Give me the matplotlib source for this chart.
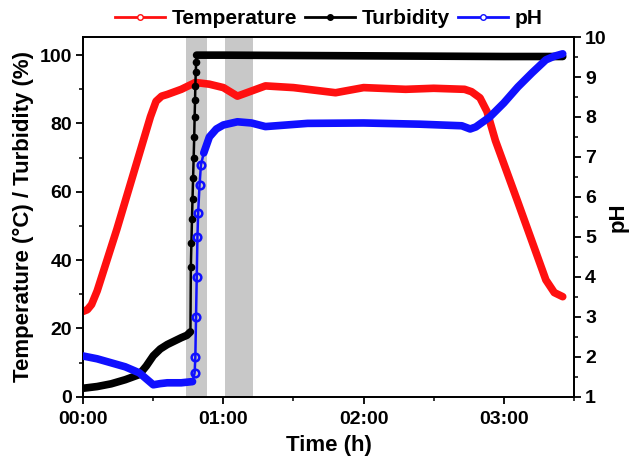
import numpy as np
import matplotlib
matplotlib.use("Agg")
import matplotlib.pyplot as plt
from matplotlib.ticker import MultipleLocator, FuncFormatter
from matplotlib.lines import Line2D

plt.rcParams['font.family'] = ['Liberation Sans', 'DejaVu Sans']
plt.rcParams['font.weight'] = 'bold'

# time in hours
temp_t = [0, 0.03, 0.06, 0.1, 0.24, 0.4, 0.48, 0.52, 0.56, 0.6, 0.7, 0.8, 0.9,
          1.0, 1.1, 1.2, 1.3, 1.5, 1.7, 1.8, 2.0, 2.3, 2.5, 2.72, 2.77, 2.83,
          2.88, 2.94, 3.1, 3.3, 3.36, 3.42]
temp_v = [25, 25.5, 27, 31, 49, 71, 82, 86.5, 88, 88.5, 90, 92, 91.5,
          90.5, 88, 89.5, 91, 90.5, 89.5, 89, 90.5, 90, 90.3, 90, 89.3, 87.5,
          83.5, 75, 57, 34.2, 30.5, 29.3]

turb_t = [0, 0.1, 0.2, 0.3, 0.4, 0.45, 0.5, 0.55, 0.6, 0.65, 0.7, 0.74, 0.765,
          0.768, 0.772, 0.776, 0.78, 0.784, 0.788, 0.792, 0.795, 0.798, 0.8,
          0.803, 0.806, 0.809, 1.0, 2.0, 3.0, 3.42]
turb_v = [2.5, 3, 3.8, 5, 6.5, 9, 12, 14, 15.3, 16.3, 17.3, 18, 19,
          38, 45, 52, 58, 64, 70, 76, 82, 87, 91,
          95, 98, 100, 100, 99.8, 99.6, 99.6]

ph_t = [0, 0.1, 0.2, 0.3, 0.4, 0.45, 0.5, 0.55, 0.6, 0.7, 0.78, 0.795, 0.8,
        0.805, 0.81, 0.815, 0.82, 0.83, 0.84, 0.86, 0.9, 0.95, 1.0, 1.1, 1.2,
        1.3, 1.45, 1.6, 2.0, 2.4, 2.7, 2.76, 2.8, 2.9, 3.0, 3.1, 3.2, 3.3,
        3.36, 3.42]
ph_v = [2.02, 1.95, 1.85, 1.75, 1.6, 1.45, 1.3, 1.33, 1.35, 1.35, 1.38, 1.6, 2.0,
        3.0, 4.0, 5.0, 5.6, 6.3, 6.8, 7.1, 7.5, 7.7, 7.8, 7.88, 7.85,
        7.76, 7.8, 7.84, 7.85, 7.82, 7.78, 7.7, 7.75, 8.0, 8.35, 8.75, 9.1, 9.43,
        9.52, 9.58]

bands = [(0.73, 0.885), (1.01, 1.21)]

RED, BLUE = '#ff1010', '#1010ff'


def split_jump(t, v, lo, hi):
    # steep jump drawn thin with markers, the rest as a thick trace
    t = np.asarray(t, float)
    v = np.asarray(v, float)
    inside = (t > lo) & (t < hi)
    thick = v.copy()
    thick[inside] = np.nan
    idx = list(np.nonzero(inside)[0])
    return t, v, thick, idx


fig = plt.figure(figsize=(6.3, 4.63), dpi=100)
ax = fig.add_axes([0.132, 0.143, 0.779, 0.777])
ax2 = ax.twinx()

for a, b in bands:
    ax.axvspan(a, b, color='#c8c8c8', lw=0, zorder=0)

# temperature
ax.plot(temp_t, temp_v, color=RED, lw=5.5, solid_capstyle='round',
        solid_joinstyle='round', zorder=3)

# turbidity
t, v, thick, idx = split_jump(turb_t, turb_v, 0.766, 0.808)
ax.plot(t, v, color='black', lw=1.8, marker='o', ms=4.5, markevery=idx, zorder=4)
ax.plot(t, thick, color='black', lw=5.5, solid_capstyle='round',
        solid_joinstyle='round', zorder=4)

# pH
t, v, thick, idx = split_jump(ph_t, ph_v, 0.79, 0.85)
ax2.plot(t, v, color=BLUE, lw=1.8, marker='o', ms=5.5, mfc='none', mew=1.8,
         markevery=idx, zorder=5)
ax2.plot(t, thick, color=BLUE, lw=5.5, solid_capstyle='round',
         solid_joinstyle='round', zorder=5)

ax.set_xlim(0, 3.5)
ax.set_ylim(0, 105.3)
ax2.set_ylim(1, 10)

ax.xaxis.set_major_locator(MultipleLocator(1))
ax.xaxis.set_minor_locator(MultipleLocator(0.5))
ax.xaxis.set_major_formatter(FuncFormatter(lambda x, p: '%02d:00' % int(round(x))))
ax.yaxis.set_major_locator(MultipleLocator(20))
ax.yaxis.set_minor_locator(MultipleLocator(10))
ax2.yaxis.set_major_locator(MultipleLocator(1))
ax2.yaxis.set_minor_locator(MultipleLocator(0.5))

for a in (ax, ax2):
    a.tick_params(which='major', direction='out', length=5, width=1.3, labelsize=14, pad=3)
    a.tick_params(which='minor', direction='out', length=3, width=1.1)
    for s in a.spines.values():
        s.set_linewidth(1.3)
ax.tick_params(axis='x', pad=5)

ax.set_xlabel('Time (h)', fontsize=16, fontweight='bold', labelpad=5)
ax.set_ylabel('Temperature (°C) / Turbidity (%)', fontsize=16, fontweight='bold', labelpad=4)
ax2.set_ylabel('pH', fontsize=16, fontweight='bold', labelpad=1)

handles = [Line2D([], [], color=RED, lw=2, marker='o', ms=4, mfc='white'),
           Line2D([], [], color='black', lw=2, marker='o', ms=4),
           Line2D([], [], color=BLUE, lw=2, marker='o', ms=4, mfc='white')]
ax.legend(handles, ['Temperature', 'Turbidity', 'pH'], ncol=3, frameon=False,
          loc='lower center', bbox_to_anchor=(0.5, 0.99), fontsize=15,
          handlelength=2.4, handletextpad=0.3, columnspacing=0.4, borderaxespad=0.2)

fig.savefig('out.png', dpi=100)
